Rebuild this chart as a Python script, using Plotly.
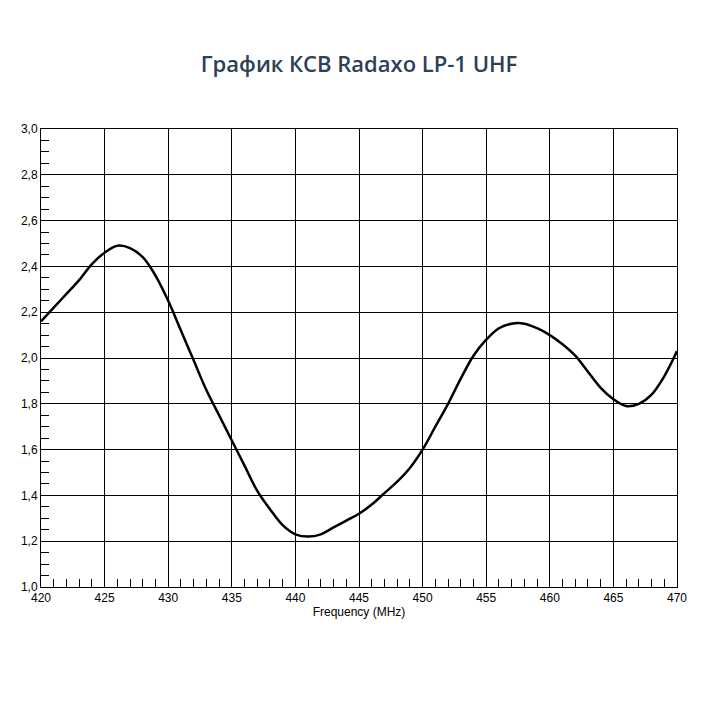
import plotly.graph_objects as go

# frequency points (MHz) and SWR values
freq = list(range(420, 471))
swr = [2.16, 2.22, 2.28, 2.34, 2.41, 2.46, 2.49, 2.48, 2.44, 2.36,
       2.25, 2.12, 1.99, 1.86, 1.75, 1.64, 1.53, 1.42, 1.34, 1.27,
       1.23, 1.22, 1.23, 1.26, 1.29, 1.32, 1.36, 1.41, 1.46, 1.52,
       1.60, 1.70, 1.80, 1.91, 2.01, 2.08, 2.13, 2.15, 2.15, 2.13,
       2.10, 2.06, 2.01, 1.94, 1.87, 1.82, 1.79, 1.80, 1.84, 1.92, 2.03]

fig = go.Figure()
fig.add_trace(go.Scatter(x=freq, y=swr, mode='lines', line=dict(color='black', width=2.5, shape='spline'),
                         showlegend=False))

axis_common = dict(showgrid=True, gridcolor='black', gridwidth=1, showline=True, linecolor='black',
                   linewidth=1, mirror=True, zeroline=False, ticks='', tickfont=dict(family='Liberation Sans', size=12, color='black'))
fig.update_xaxes(range=[420, 470], dtick=5, title=dict(text='Frequency (MHz)', standoff=2,
                 font=dict(family='Liberation Sans', size=12, color='black')),
                 minor=dict(dtick=1, ticks='inside', ticklen=8, tickcolor='black', showgrid=False), **axis_common)
fig.update_yaxes(range=[1.0, 3.0], dtick=0.2, tickformat='.1f',
                 minor=dict(dtick=0.05, ticks='inside', ticklen=8, tickcolor='black', showgrid=False), **axis_common)
fig.update_layout(
    width=702, height=702,
    margin=dict(l=33, r=33, t=121, b=123),
    plot_bgcolor='white', paper_bgcolor='white',
    separators=',.',
    title=dict(text='График КСВ Radaxo LP-1 UHF', x=0.5, xanchor='center', y=0.92, yanchor='middle',
               font=dict(family='Open Sans', size=22, color='#2e4057', weight=600)),
)
fig.write_html("out.html")
